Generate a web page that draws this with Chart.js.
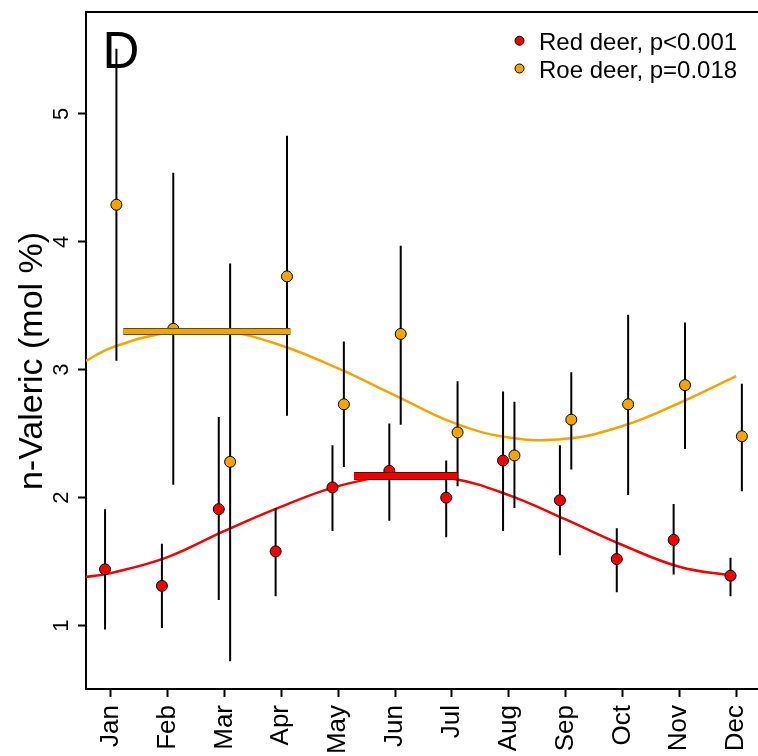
<!DOCTYPE html>
<html>
<head>
<meta charset="utf-8">
<title>n-Valeric by month</title>
<script src="https://cdn.jsdelivr.net/npm/chart.js@4.4.1/dist/chart.umd.min.js"></script>
<style>
  html, body { margin: 0; padding: 0; background: #fff; overflow: hidden; }
  #wrap { width: 758px; height: 756px; overflow: hidden; }
  #chart { display: block; }
</style>
</head>
<body>
<div id="wrap"><canvas id="chart" width="772" height="756"></canvas></div>
<script>
// monthly means with error ranges, n-Valeric (mol %)
const months = [1, 2, 3, 4, 5, 6, 7, 8, 9, 10, 11, 12];
const monthLabels = ['Jan', 'Feb', 'Mar', 'Apr', 'May', 'Jun', 'Jul', 'Aug', 'Sep', 'Oct', 'Nov', 'Dec'];
const yTicks = [1, 2, 3, 4, 5];

const redMean = [1.44, 1.31, 1.91, 1.58, 2.08, 2.21, 2.00, 2.29, 1.98, 1.52, 1.67, 1.39];
const redLow  = [0.97, 0.98, 1.20, 1.23, 1.74, 1.82, 1.69, 1.74, 1.55, 1.26, 1.40, 1.23];
const redHigh = [1.91, 1.64, 2.63, 1.92, 2.41, 2.58, 2.29, 2.83, 2.41, 1.76, 1.95, 1.53];

const roeMean = [4.29, 3.32, 2.28, 3.73, 2.73, 3.28, 2.51, 2.33, 2.61, 2.73, 2.88, 2.48];
const roeLow  = [3.07, 2.10, 0.72, 2.64, 2.24, 2.57, 2.09, 1.92, 2.22, 2.02, 2.38, 2.05];
const roeHigh = [5.51, 4.54, 3.83, 4.83, 3.22, 3.97, 2.91, 2.75, 2.98, 3.43, 3.37, 2.89];

// seasonal fit curves
const fitMonths = [0.565, 1, 2, 3, 4, 5, 6, 7, 8, 9, 10, 11, 12];
const redFit = [1.38, 1.41, 1.535, 1.74, 1.93, 2.09, 2.17, 2.15, 2.02, 1.83, 1.63, 1.46, 1.385];
const roeFit = [3.07, 3.17, 3.29, 3.30, 3.19, 3.01, 2.80, 2.59, 2.47, 2.46, 2.56, 2.74, 2.95];

// peak period bars: [start month, end month], level
const redPeak = [5.28, 7.10];
const redPeakLevel = 2.17;
const roePeak = [1.22, 4.16];
const roePeakLevel = 3.30;

const legendLabels = ['Red deer, p<0.001', 'Roe deer, p=0.018'];
const yTitle = 'n-Valeric (mol %)';
const dodge = 0.1;

const RED = '#f00000';
const ROE = '#f5a300';
const FONT = "'Liberation Sans', Arial, sans-serif";

Chart.defaults.font.family = FONT;
Chart.defaults.color = '#000';

const toPoints = (xs, ys, shift) => xs.map((x, i) => ({ x: x + shift, y: ys[i] }));

const errorSegments = (lo, hi, shift) => {
    const pts = [];
    months.forEach((m, i) => {
        pts.push({ x: m + shift, y: lo[i] });
        pts.push({ x: m + shift, y: hi[i] });
        pts.push({ x: m + shift, y: null });
    });
    return pts;
};

const peakLine = (range, level) => range.map(x => ({ x: x, y: level }));

const lineDefaults = { type: 'line', pointRadius: 0, fill: false, spanGaps: false };

const datasets = [
    // peak bars, outline then fill
    { ...lineDefaults, data: peakLine(roePeak, roePeakLevel), borderColor: ROE, borderWidth: 5, borderCapStyle: 'butt', order: 0 },
    { ...lineDefaults, data: peakLine(roePeak, roePeakLevel), borderColor: '#6a4a00', borderWidth: 7, borderCapStyle: 'butt', order: 1 },
    { ...lineDefaults, data: peakLine(redPeak, redPeakLevel), borderColor: RED, borderWidth: 6, borderCapStyle: 'butt', order: 0 },
    { ...lineDefaults, data: peakLine(redPeak, redPeakLevel), borderColor: '#700000', borderWidth: 8, borderCapStyle: 'butt', order: 1 },
    // monthly means
    { type: 'scatter', label: legendLabels[0], data: toPoints(months, redMean, -dodge), backgroundColor: RED, borderColor: '#000', borderWidth: 1, pointRadius: 5.5, order: 2 },
    { type: 'scatter', label: legendLabels[1], data: toPoints(months, roeMean, dodge), backgroundColor: ROE, borderColor: '#000', borderWidth: 1, pointRadius: 5.5, order: 2 },
    // error ranges
    { ...lineDefaults, data: errorSegments(redLow, redHigh, -dodge), borderColor: '#000', borderWidth: 2, order: 3 },
    { ...lineDefaults, data: errorSegments(roeLow, roeHigh, dodge), borderColor: '#000', borderWidth: 2, order: 3 },
    // fitted curves
    { ...lineDefaults, data: toPoints(fitMonths, redFit, 0), borderColor: RED, borderWidth: 2.5, tension: 0.4, order: 4 },
    { ...lineDefaults, data: toPoints(fitMonths, roeFit, 0), borderColor: ROE, borderWidth: 2.5, tension: 0.4, order: 4 }
];

// top frame line, axis title, panel letter and legend
const panelDecor = {
    id: 'panelDecor',
    afterDraw(chart) {
        const { ctx, chartArea } = chart;
        ctx.save();
        ctx.strokeStyle = '#000';
        ctx.lineWidth = 2;
        ctx.beginPath();
        ctx.moveTo(chartArea.left - 1, chartArea.top);
        ctx.lineTo(chartArea.right, chartArea.top);
        ctx.stroke();

        ctx.fillStyle = '#000';
        ctx.save();
        ctx.translate(42, 361);
        ctx.rotate(-Math.PI / 2);
        ctx.textAlign = 'center';
        ctx.textBaseline = 'alphabetic';
        ctx.font = `34px ${FONT}`;
        ctx.fillText(yTitle, 0, 0);
        ctx.restore();

        ctx.textBaseline = 'alphabetic';
        ctx.textAlign = 'left';
        ctx.font = `51px ${FONT}`;
        ctx.fillText('D', 102.5, 67.5);

        const colors = [RED, ROE];
        ctx.font = `24px ${FONT}`;
        legendLabels.forEach((label, i) => {
            const cy = 40.7 + i * 27.8;
            ctx.beginPath();
            ctx.arc(519.5, cy, 4.5, 0, Math.PI * 2);
            ctx.fillStyle = colors[i];
            ctx.fill();
            ctx.lineWidth = 1;
            ctx.strokeStyle = '#000';
            ctx.stroke();
            ctx.fillStyle = '#000';
            ctx.fillText(label, 539, cy + 9);
        });
        ctx.restore();
    }
};

new Chart(document.getElementById('chart'), {
    data: { datasets: datasets },
    options: {
        responsive: false,
        animation: false,
        layout: { autoPadding: false, padding: { top: 12, right: 0, bottom: 0, left: 0 } },
        plugins: { legend: { display: false }, tooltip: { enabled: false } },
        scales: {
            x: {
                type: 'linear',
                min: 0.565,
                max: 12.63,
                afterBuildTicks: (scale) => { scale.ticks = months.map(v => ({ value: v })); },
                afterFit: (scale) => {
                    scale.height = 67;
                    scale.paddingLeft = 0;
                    scale.paddingRight = 0;
                },
                ticks: {
                    autoSkip: false,
                    minRotation: 90,
                    maxRotation: 90,
                    padding: 8,
                    font: { size: 26 },
                    callback: (value, index) => monthLabels[index]
                },
                grid: { drawOnChartArea: false, tickLength: 8, tickWidth: 2, tickColor: '#000' },
                border: { display: true, color: '#000', width: 2 }
            },
            y: {
                type: 'linear',
                min: 0.504,
                max: 5.797,
                afterBuildTicks: (scale) => { scale.ticks = yTicks.map(v => ({ value: v })); },
                afterFit: (scale) => {
                    scale.width = 86;
                    scale.paddingTop = 0;
                    scale.paddingBottom = 0;
                },
                ticks: {
                    minRotation: 90,
                    maxRotation: 90,
                    crossAlign: 'center',
                    padding: 10,
                    font: { size: 22 }
                },
                grid: { drawOnChartArea: false, tickLength: 8, tickWidth: 2, tickColor: '#000' },
                border: { display: true, color: '#000', width: 2 }
            }
        }
    },
    plugins: [panelDecor]
});
</script>
</body>
</html>
